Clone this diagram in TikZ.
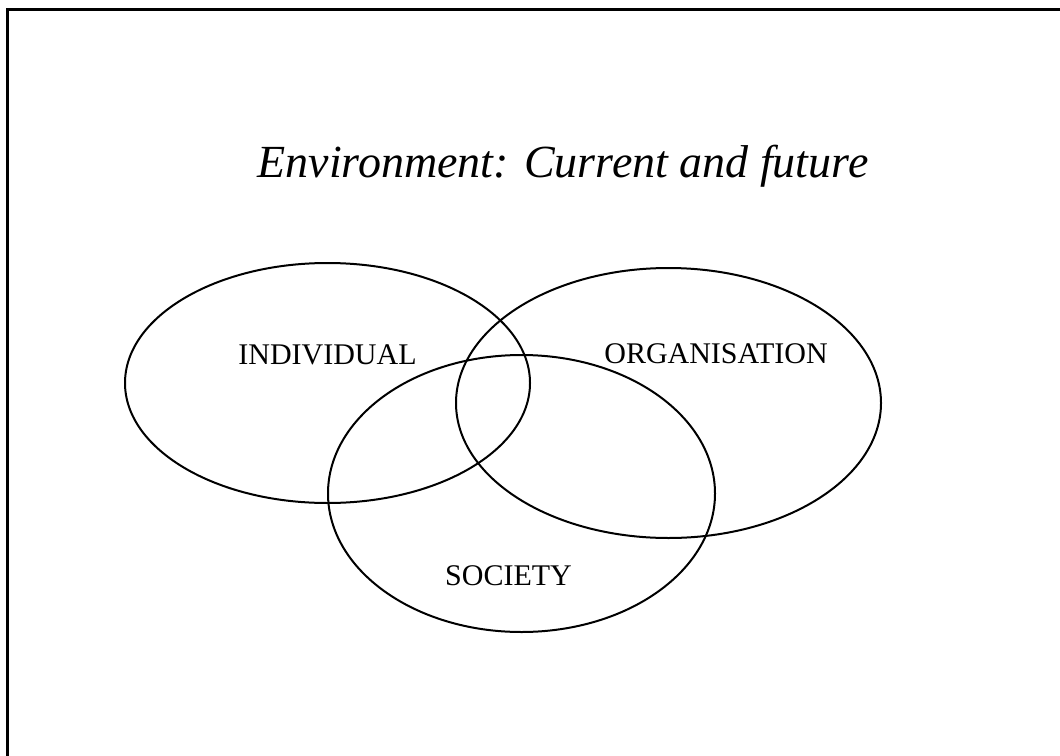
\documentclass[tikz,border=0pt]{standalone}
\usepackage{fontspec}
\setmainfont{Liberation Serif}
\usetikzlibrary{shapes.geometric}
\begin{document}
\begin{tikzpicture}[x=1pt,y=-1pt,
  frameline/.style={line width=2.2pt},
  ring/.style={draw, ellipse, line width=2pt, inner sep=0pt},
  lbl/.style={anchor=base, inner sep=0pt, font=\fontsize{30}{36}\selectfont},
  ttl/.style={anchor=base, inner sep=0pt, font=\fontsize{46}{54}\selectfont\itshape}]
\useasboundingbox (0,0) rectangle (1060,755);
\fill[white] (0,0) rectangle (1060,755);
% frame (extends beyond the page)
\coordinate (fbl) at (7.5,780);
\coordinate (ftl) at (7.5,9.5);
\coordinate (ftr) at (1090,9.5);
\draw[frameline] (fbl) -- (ftl) -- (ftr);
% title
\node[ttl] (title) at (563,177) {Environment: Current and future};
% ellipses
\node[ring, minimum width=405pt, minimum height=240pt] (ind) at (327.5,383) {};
\node[ring, minimum width=425pt, minimum height=270pt] (org) at (668.5,403) {};
\node[ring, minimum width=387pt, minimum height=277pt] (soc) at (521.5,493.5) {};
% labels
\node[lbl] (indl) at (327.5,364) {INDIVIDUAL};
\node[lbl] (orgl) at (716,363) {ORGANISATION};
\node[lbl] (socl) at (508.5,585) {SOCIETY};
\end{tikzpicture}
\end{document}
